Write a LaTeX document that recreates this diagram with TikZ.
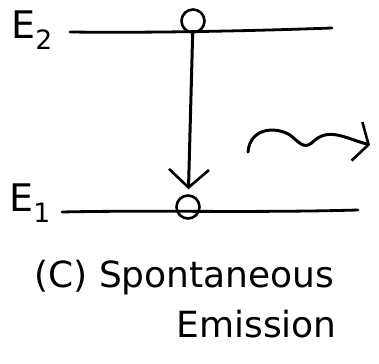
\documentclass[tikz,border=0pt]{standalone}
\usepackage{fontspec}
\setmainfont{DejaVu Sans}
\usetikzlibrary{arrows.meta, calc}
\tikzset{
  every picture/.style={line width=3pt, line cap=round, line join=round},
  level/.style={line width=2.8pt},
  electron/.style={draw, circle, minimum size=23pt, inner sep=0pt, line width=2.6pt},
  drop/.style={-{Straight Barb[length=18pt, width=40pt, line width=2.6pt]}, shorten >=5pt},
  photon/.style={-{Straight Barb[length=12pt, width=40pt, line width=2.6pt]}},
  label/.style={font=\fontsize{38}{40}\selectfont, inner sep=0pt},
  caption/.style={font=\fontsize{36}{40}\selectfont, inner sep=0pt, anchor=base west},
}

\begin{document}
\begin{tikzpicture}[x=1pt, y=-1pt]
  \useasboundingbox (0,0) rectangle (379,363);
  % energy levels
  \coordinate (e2a) at (70,32); \coordinate (e2b) at (332,28);
  \coordinate (e1a) at (62,212); \coordinate (e1b) at (358,210);
  \draw[level] (e2a) .. controls (150,33) and (250,31) .. (e2b);
  \draw[level] (e1a) .. controls (150,210) and (250,213) .. (e1b);
  \node[label] (lup) at (32,30) {E\textsubscript{2}};
  \node[label] (llow) at (30,203) {E\textsubscript{1}};
  % electrons
  \node[electron] (up) at (193,21) {};
  \node[electron] (down) at (188,207) {};
  \draw[drop] (up) -- (down);
  % emitted photon
  \coordinate (w0) at (248,152);
  \coordinate (w1) at (370,145);
  \draw[photon] (w0) .. controls (250,128) and (275,126) .. (290,135)
    .. controls (302,145) and (305,150) .. (315,140)
    .. controls (330,128) and (345,138) .. (w1);
  % caption
  \node[caption] (cap1) at (33,287) {(C) Spontaneous};
  \node[caption] (cap2) at (175,337) {Emission};
\end{tikzpicture}
\end{document}
